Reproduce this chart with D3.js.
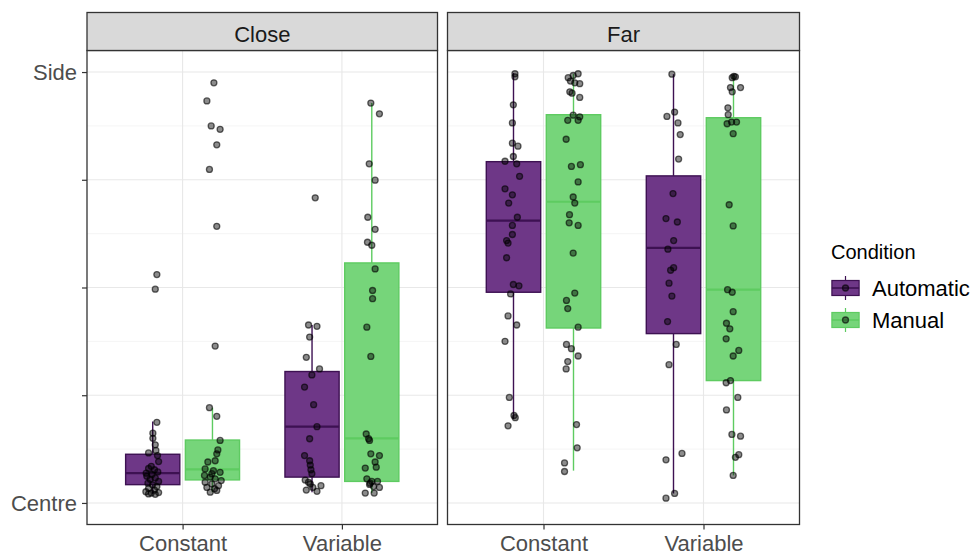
<!DOCTYPE html>
<html>
<head>
<meta charset="utf-8">
<script src="https://cdn.jsdelivr.net/npm/d3@7"></script>
<style>
  html, body { margin: 0; padding: 0; background: #ffffff; }
  svg { display: block; font-family: "Liberation Sans", Arial, sans-serif; }
</style>
</head>
<body>
<svg id="chart" width="973" height="555"></svg>
<script>
// ---- data -------------------------------------------------------------
const facets = ["Close", "Far"];
const distances = ["Constant", "Variable"];
const conditions = ["Automatic", "Manual"];
const yTicks = [0, 0.25, 0.5, 0.75, 1];
const yTickLabels = ["Centre", "", "", "", "Side"];
const yMinorTicks = [0.125, 0.375, 0.625, 0.875];

// Individual scores (0 = Centre, 1 = Side)
const closeConstantAutomatic = [0.530, 0.496, 0.187, 0.162, 0.150, 0.135, 0.122, 0.116, 0.110, 0.096,
  0.085, 0.080, 0.077, 0.072, 0.069, 0.066, 0.062, 0.058, 0.055, 0.050,
  0.046, 0.042, 0.038, 0.034, 0.030, 0.026, 0.023, 0.021, 0.020, 0.024];
const closeConstantManual = [0.975, 0.933, 0.875, 0.867, 0.831, 0.774, 0.642, 0.364, 0.221, 0.201,
  0.145, 0.123, 0.114, 0.098, 0.095, 0.079, 0.075, 0.071, 0.064, 0.060,
  0.056, 0.052, 0.048, 0.044, 0.040, 0.036, 0.033, 0.029, 0.025, 0.068];
const closeVariableAutomatic = [0.708, 0.413, 0.410, 0.385, 0.338, 0.311, 0.297, 0.269, 0.228, 0.177,
  0.149, 0.110, 0.098, 0.088, 0.077, 0.068, 0.053, 0.048, 0.044, 0.040,
  0.036, 0.030, 0.027];
const closeVariableManual = [0.928, 0.903, 0.787, 0.749, 0.663, 0.635, 0.605, 0.598, 0.543, 0.493,
  0.474, 0.408, 0.340, 0.160, 0.149, 0.145, 0.114, 0.110, 0.095, 0.083,
  0.081, 0.056, 0.050, 0.050, 0.046, 0.043, 0.038, 0.036, 0.023, 0.023];
const farConstantAutomatic = [0.996, 0.989, 0.924, 0.882, 0.835, 0.828, 0.804, 0.793, 0.787, 0.758,
  0.729, 0.715, 0.696, 0.663, 0.644, 0.623, 0.609, 0.603, 0.569, 0.507,
  0.504, 0.485, 0.434, 0.413, 0.375, 0.245, 0.203, 0.198, 0.179];
const farConstantManual = [0.996, 0.992, 0.987, 0.979, 0.975, 0.973, 0.954, 0.951, 0.941, 0.900,
  0.896, 0.888, 0.888, 0.844, 0.785, 0.781, 0.745, 0.710, 0.696, 0.669,
  0.650, 0.644, 0.580, 0.487, 0.470, 0.451, 0.408, 0.368, 0.358, 0.341,
  0.328, 0.311, 0.182, 0.128, 0.093, 0.073];
const farVariableAutomatic = [0.995, 0.907, 0.897, 0.882, 0.855, 0.798, 0.718, 0.660, 0.652, 0.609,
  0.589, 0.546, 0.540, 0.510, 0.480, 0.421, 0.368, 0.321, 0.115, 0.100,
  0.022, 0.011];
const farVariableManual = [0.990, 0.989, 0.987, 0.964, 0.964, 0.954, 0.917, 0.901, 0.884, 0.884,
  0.880, 0.857, 0.692, 0.643, 0.495, 0.489, 0.444, 0.417, 0.404, 0.381,
  0.354, 0.341, 0.284, 0.279, 0.245, 0.216, 0.159, 0.155, 0.112, 0.106,
  0.064];

// Horizontal jitter of each score, in category widths
const closeConstantAutomaticJitter = [0.026, 0.016, 0.026, 0.001, 0.001, 0.016, 0.020, -0.026, 0.030, 0.037,
  -0.009, -0.026, 0.011, 0.032, -0.041, -0.005, -0.037, 0.016, -0.016, 0.037,
  -0.030, -0.001, 0.026, -0.026, 0.011, -0.043, -0.009, -0.026, 0.016, 0.037];
const closeConstantManualJitter = [0.009, -0.035, -0.008, 0.048, 0.027, -0.019, 0.027, 0.017, -0.019, 0.027,
  0.048, 0.034, 0.027, 0.017, -0.029, -0.046, 0.006, 0.048, -0.050, -0.014,
  0.017, 0.055, -0.046, -0.004, 0.038, -0.035, 0.013, 0.027, -0.014, -0.004];
const closeVariableAutomaticJitter = [0.020, -0.022, 0.031, -0.015, -0.036, 0.047, -0.001, -0.047, 0.010, 0.031,
  -0.015, -0.047, -0.015, -0.011, -0.007, -0.001, -0.043, -0.022, -0.011, 0.056,
  0.005, -0.036, 0.031];
const closeVariableManualJitter = [-0.006, 0.048, -0.016, 0.021, -0.025, 0.021, -0.027, 0.000, 0.021, 0.005,
  0.005, -0.031, -0.006, -0.035, -0.020, -0.014, -0.006, 0.048, 0.021, 0.028,
  -0.041, -0.031, 0.000, 0.036, -0.010, -0.014, 0.011, 0.048, -0.041, 0.015];
const farConstantAutomaticJitter = [0.009, 0.009, -0.001, -0.007, -0.007, 0.028, -0.001, -0.053, 0.020, 0.038,
  -0.053, -0.007, -0.030, 0.024, -0.007, -0.007, -0.043, -0.034, -0.043, -0.001,
  0.034, -0.018, -0.034, 0.020, -0.053, -0.026, 0.003, 0.011, -0.034];
const farConstantManualJitter = [0.029, -0.002, -0.033, -0.019, 0.008, 0.039, -0.023, -0.009, 0.039, -0.002,
  0.039, 0.029, -0.036, -0.046, 0.043, -0.013, 0.029, -0.002, 0.008, -0.025,
  -0.027, 0.029, -0.002, 0.008, -0.044, -0.036, 0.029, -0.044, -0.013, 0.029,
  -0.036, -0.046, 0.019, 0.023, -0.056, -0.056];
const farVariableAutomaticJitter = [-0.010, 0.007, -0.041, 0.028, 0.042, 0.032, -0.003, -0.047, 0.024, 0.001,
  -0.035, 0.001, -0.018, -0.028, -0.010, -0.037, 0.017, -0.028, 0.053, -0.047,
  0.007, -0.047];
const farVariableManualJitter = [0.002, 0.012, -0.008, -0.019, 0.044, -0.008, -0.035, -0.033, -0.012, 0.019,
  -0.040, -0.002, -0.027, -0.002, -0.037, -0.008, -0.002, -0.044, -0.023, -0.046,
  0.033, -0.002, -0.019, -0.046, 0.027, -0.044, -0.010, 0.044, 0.033, 0.012,
  -0.002];

// Box summaries: [lower whisker, Q1, median, Q3, upper whisker]
const closeConstantAutomaticBox = [0.021, 0.0425, 0.069, 0.113, 0.189];
const closeConstantManualBox = [0.025, 0.0535, 0.078, 0.146, 0.221];
const closeVariableAutomaticBox = [0.025, 0.060, 0.177, 0.305, 0.413];
const closeVariableManualBox = [0.023, 0.050, 0.150, 0.557, 0.928];
const farConstantAutomaticBox = [0.195, 0.489, 0.655, 0.792, 0.998];
const farConstantManualBox = [0.075, 0.406, 0.699, 0.901, 0.996];
const farVariableAutomaticBox = [0.022, 0.393, 0.592, 0.759, 0.995];
const farVariableManualBox = [0.064, 0.284, 0.495, 0.894, 0.992];

const groups = [
  { facet: "Close", distance: "Constant", condition: "Automatic", values: closeConstantAutomatic, jitter: closeConstantAutomaticJitter, box: closeConstantAutomaticBox },
  { facet: "Close", distance: "Constant", condition: "Manual",    values: closeConstantManual,    jitter: closeConstantManualJitter,    box: closeConstantManualBox },
  { facet: "Close", distance: "Variable", condition: "Automatic", values: closeVariableAutomatic, jitter: closeVariableAutomaticJitter, box: closeVariableAutomaticBox },
  { facet: "Close", distance: "Variable", condition: "Manual",    values: closeVariableManual,    jitter: closeVariableManualJitter,    box: closeVariableManualBox },
  { facet: "Far",   distance: "Constant", condition: "Automatic", values: farConstantAutomatic,   jitter: farConstantAutomaticJitter,   box: farConstantAutomaticBox },
  { facet: "Far",   distance: "Constant", condition: "Manual",    values: farConstantManual,      jitter: farConstantManualJitter,      box: farConstantManualBox },
  { facet: "Far",   distance: "Variable", condition: "Automatic", values: farVariableAutomatic,   jitter: farVariableAutomaticJitter,   box: farVariableAutomaticBox },
  { facet: "Far",   distance: "Variable", condition: "Manual",    values: farVariableManual,      jitter: farVariableManualJitter,      box: farVariableManualBox }
];

// ---- styling ----------------------------------------------------------
const fillColor = d3.scaleOrdinal(conditions, ["#6e3787", "#76d57a"]);
const lineColor = d3.scaleOrdinal(conditions, ["#3d1152", "#5ecb61"]);
const FONT = '"Liberation Sans", Arial, sans-serif';
const POINT_R = 3.0;

// ---- layout -----------------------------------------------------------
const panels = [
  { facet: "Close", x0: 87, x1: 437.5 },
  { facet: "Far",   x0: 447.5, x1: 799.5 }
];
const stripTop = 12.5, panelTop = 50.5, panelBottom = 524.5;

const y = d3.scaleLinear().domain([-0.05, 1.05]).range([panelBottom, panelTop]);
const dodge = d3.scaleOrdinal(conditions, [-0.1875, 0.1875]);
const boxWidth = 0.34;

const svg = d3.select("#chart");

function drawPoint(sel) {
  sel.attr("r", POINT_R)
    .attr("fill", "#000").attr("fill-opacity", 0.45)
    .attr("stroke", "#000").attr("stroke-opacity", 0.6).attr("stroke-width", 1.3);
}

panels.forEach((p, pi) => {
  const x = d3.scalePoint().domain(distances).range([p.x0, p.x1]).padding(0.6);
  const step = x.step();
  const g = svg.append("g");

  // grid
  g.selectAll("line.minor").data(yMinorTicks).join("line")
    .attr("x1", p.x0).attr("x2", p.x1)
    .attr("y1", d => y(d)).attr("y2", d => y(d))
    .attr("stroke", "#f2f2f2").attr("stroke-width", 0.8);
  g.selectAll("line.majorY").data(yTicks).join("line")
    .attr("x1", p.x0).attr("x2", p.x1)
    .attr("y1", d => y(d)).attr("y2", d => y(d))
    .attr("stroke", "#e8e8e8").attr("stroke-width", 1.1);
  g.selectAll("line.majorX").data(distances).join("line")
    .attr("x1", d => x(d)).attr("x2", d => x(d))
    .attr("y1", panelTop).attr("y2", panelBottom)
    .attr("stroke", "#e8e8e8").attr("stroke-width", 1.1);

  const pg = groups.filter(d => d.facet === p.facet);

  // boxplots
  pg.forEach(gr => {
    const cx = x(gr.distance) + dodge(gr.condition) * step;
    const hw = boxWidth * step / 2;
    const [lo, q1, med, q3, hi] = gr.box;
    const col = lineColor(gr.condition);
    g.append("line").attr("x1", cx).attr("x2", cx).attr("y1", y(q3)).attr("y2", y(hi))
      .attr("stroke", col).attr("stroke-width", 1.4);
    g.append("line").attr("x1", cx).attr("x2", cx).attr("y1", y(q1)).attr("y2", y(lo))
      .attr("stroke", col).attr("stroke-width", 1.4);
    g.append("rect").attr("x", cx - hw).attr("width", 2 * hw)
      .attr("y", y(q3)).attr("height", y(q1) - y(q3))
      .attr("fill", fillColor(gr.condition)).attr("stroke", col).attr("stroke-width", 1.4);
    g.append("line").attr("x1", cx - hw).attr("x2", cx + hw).attr("y1", y(med)).attr("y2", y(med))
      .attr("stroke", col).attr("stroke-width", 2.2);
  });

  // jittered points
  pg.forEach(gr => {
    const cx = x(gr.distance) + dodge(gr.condition) * step;
    g.selectAll(null).data(gr.values.map((v, i) => ({ v, j: gr.jitter[i] }))).join("circle")
      .attr("cx", d => cx + d.j * step)
      .attr("cy", d => y(d.v))
      .call(drawPoint);
  });

  // panel border
  g.append("rect").attr("x", p.x0).attr("y", panelTop)
    .attr("width", p.x1 - p.x0).attr("height", panelBottom - panelTop)
    .attr("fill", "none").attr("stroke", "#333333").attr("stroke-width", 1.3);

  // strip
  g.append("rect").attr("x", p.x0).attr("y", stripTop)
    .attr("width", p.x1 - p.x0).attr("height", panelTop - stripTop)
    .attr("fill", "#d9d9d9").attr("stroke", "#333333").attr("stroke-width", 1.3);
  g.append("text").attr("x", (p.x0 + p.x1) / 2).attr("y", 41.5)
    .attr("text-anchor", "middle").attr("font-size", 22).attr("fill", "#1a1a1a")
    .text(p.facet);

  // x axis
  const xAxis = g.append("g").attr("transform", `translate(0,${panelBottom})`)
    .call(d3.axisBottom(x).tickSize(5).tickPadding(6));
  xAxis.select(".domain").remove();
  xAxis.selectAll(".tick line").attr("stroke", "#333333").attr("stroke-width", 1.2);
  xAxis.selectAll(".tick text").attr("font-size", 22).attr("font-family", FONT).attr("fill", "#4d4d4d");

  // y axis on the first panel only
  if (pi === 0) {
    const yAxis = g.append("g").attr("transform", `translate(${p.x0},0)`)
      .call(d3.axisLeft(y).tickValues(yTicks).tickFormat((d, i) => yTickLabels[i]).tickSize(5).tickPadding(5));
    yAxis.select(".domain").remove();
    yAxis.selectAll(".tick line").attr("stroke", "#333333").attr("stroke-width", 1.2);
    yAxis.selectAll(".tick text").attr("font-size", 22).attr("font-family", FONT).attr("fill", "#4d4d4d");
  }
});

// ---- legend -----------------------------------------------------------
const legend = svg.append("g");
legend.append("text").attr("x", 831).attr("y", 259)
  .attr("font-size", 20).attr("fill", "#000").text("Condition");

const keyY = d3.scalePoint().domain(conditions).range([288, 320]);
conditions.forEach(c => {
  const cy = keyY(c), cx = 845.5, kh = 30, kw = 34;
  const col = lineColor(c);
  legend.append("line").attr("x1", cx).attr("x2", cx).attr("y1", cy - kh * 0.4).attr("y2", cy + kh * 0.4)
    .attr("stroke", col).attr("stroke-width", 1.2);
  legend.append("rect").attr("x", cx - kw * 0.4).attr("width", kw * 0.8)
    .attr("y", cy - kh * 0.25).attr("height", kh * 0.5)
    .attr("fill", fillColor(c)).attr("stroke", col).attr("stroke-width", 1.2);
  legend.append("line").attr("x1", cx - kw * 0.4).attr("x2", cx + kw * 0.4).attr("y1", cy).attr("y2", cy)
    .attr("stroke", col).attr("stroke-width", 1.6);
  legend.append("circle").attr("cx", cx).attr("cy", cy).call(drawPoint);
  legend.append("text").attr("x", 872).attr("y", cy).attr("dy", "0.36em")
    .attr("font-size", 22).attr("fill", "#000").text(c);
});
</script>
</body>
</html>
